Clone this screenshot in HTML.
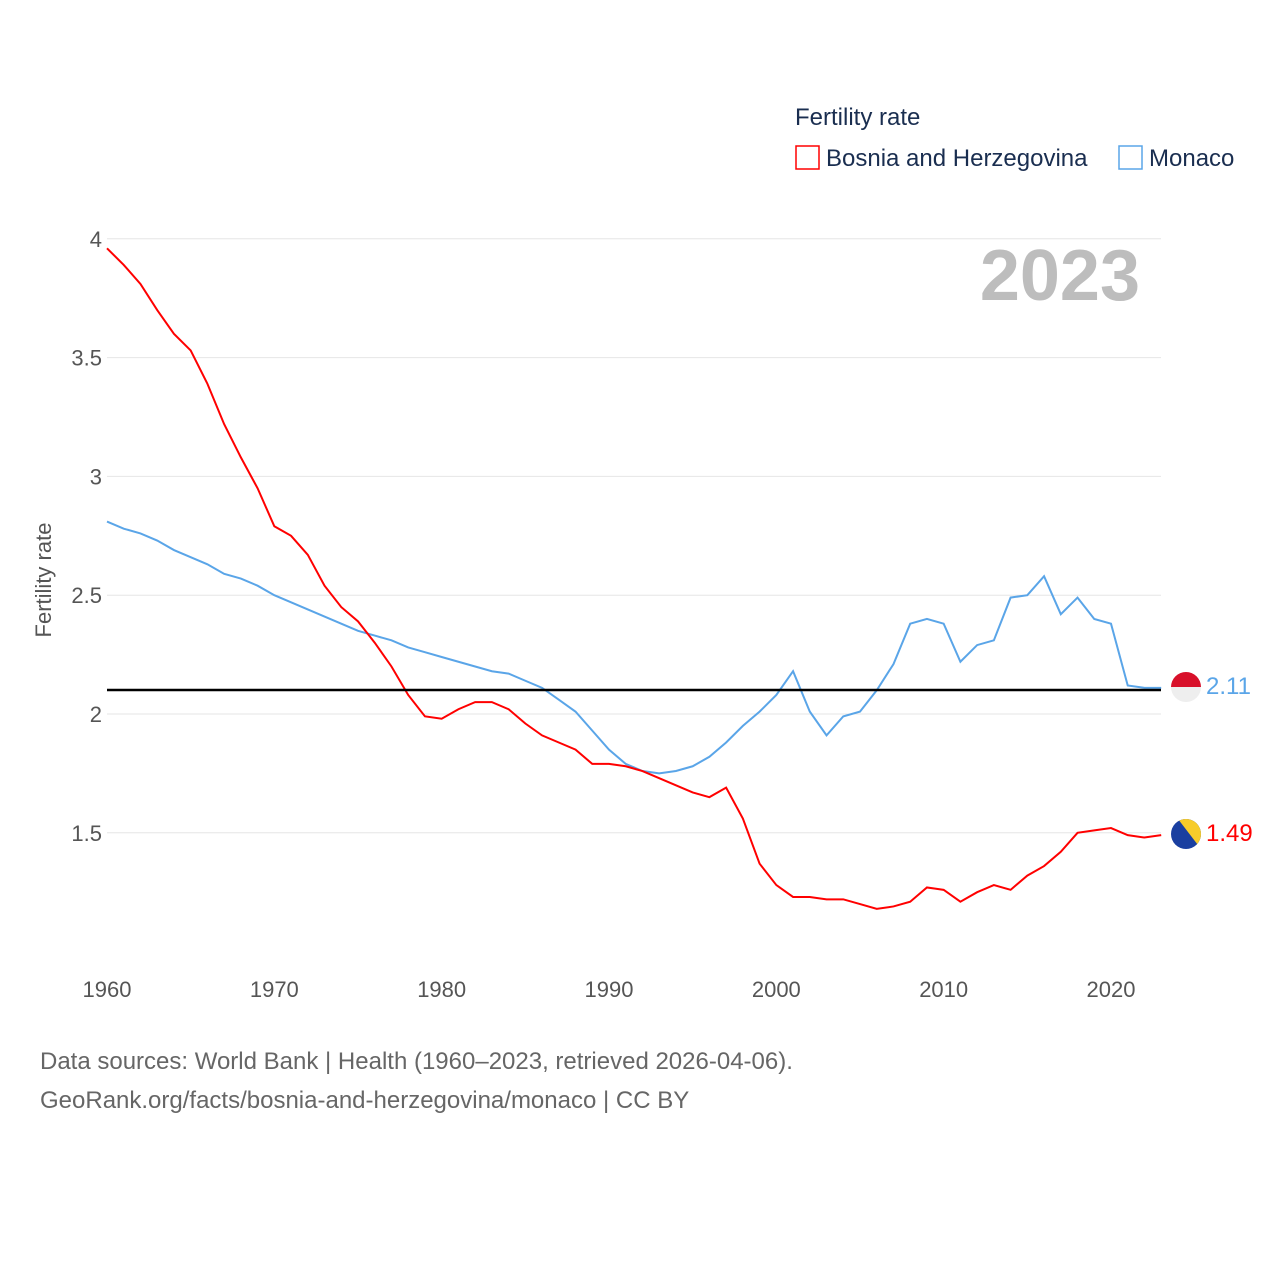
<!DOCTYPE html>
<html><head><meta charset="utf-8"><style>
body{margin:0;background:#fff;font-family:"Liberation Sans",sans-serif;}
svg text{font-family:"Liberation Sans",sans-serif;}
</style></head><body>
<svg id="chart" width="1280" height="1280">
<text x="795" y="125" font-size="24" fill="#1a2e50">Fertility rate</text>
<g><rect x="796" y="146" width="23" height="23" fill="none" stroke="#f00" stroke-width="1.5"/><text x="826" y="166" font-size="24" fill="#1a2e50">Bosnia and Herzegovina</text></g>
<g><rect x="1119" y="146" width="23" height="23" fill="none" stroke="#5aa5e8" stroke-width="1.5"/><text x="1149" y="166" font-size="24" fill="#1a2e50">Monaco</text></g>
<text x="1140" y="300" font-size="72" font-weight="bold" fill="#bdbdbd" text-anchor="end">2023</text>
<text transform="translate(51,580) rotate(-90)" font-size="22" fill="#555" text-anchor="middle">Fertility rate</text>
<g id="grid"></g><g id="xt"></g><g id="lines"></g>
<line x1="107" x2="1161" y1="690" y2="690" stroke="#000" stroke-width="2.5"/>
<g><clipPath id="c1"><circle cx="1186" cy="687" r="15"/></clipPath><g clip-path="url(#c1)"><rect x="1171" y="672" width="30" height="15" fill="#d8102a"/><rect x="1171" y="687" width="30" height="15" fill="#eee"/></g></g>
<g><clipPath id="c2"><circle cx="1186" cy="834" r="15"/></clipPath><g clip-path="url(#c2)"><rect x="1171" y="819" width="30" height="30" fill="#1a3fa0"/><polygon points="1178,819 1201,819 1201,849" fill="#f7cc2a"/></g></g>
<text x="1206" y="694" font-size="24" fill="#5aa5e8">2.11</text>
<text x="1206" y="841" font-size="24" fill="#f00">1.49</text>
<text x="40" y="1069" font-size="24" fill="#666">Data sources: World Bank | Health (1960–2023, retrieved 2026-04-06).</text>
<text x="40" y="1108" font-size="24" fill="#666">GeoRank.org/facts/bosnia-and-herzegovina/monaco | CC BY</text>
</svg>
<script>
const years=[];for(let y=1960;y<=2023;y++)years.push(y);
const bosnia=[3.96,3.89,3.81,3.70,3.60,3.53,3.39,3.22,3.08,2.95,2.79,2.75,2.67,2.54,2.45,2.39,2.30,2.20,2.08,1.99,1.98,2.02,2.05,2.05,2.02,1.96,1.91,1.88,1.85,1.79,1.79,1.78,1.76,1.73,1.70,1.67,1.65,1.69,1.56,1.37,1.28,1.23,1.23,1.22,1.22,1.20,1.18,1.19,1.21,1.27,1.26,1.21,1.25,1.28,1.26,1.32,1.36,1.42,1.50,1.51,1.52,1.49,1.48,1.49];
const monaco=[2.81,2.78,2.76,2.73,2.69,2.66,2.63,2.59,2.57,2.54,2.50,2.47,2.44,2.41,2.38,2.35,2.33,2.31,2.28,2.26,2.24,2.22,2.20,2.18,2.17,2.14,2.11,2.06,2.01,1.93,1.85,1.79,1.76,1.75,1.76,1.78,1.82,1.88,1.95,2.01,2.08,2.18,2.01,1.91,1.99,2.01,2.10,2.21,2.38,2.40,2.38,2.22,2.29,2.31,2.49,2.50,2.58,2.42,2.49,2.40,2.38,2.12,2.11,2.11];
const yTicks=[1.5,2,2.5,3,3.5,4];
const xTicks=[1960,1970,1980,1990,2000,2010,2020];
const X=v=>107+(v-1960)*1004/60, Y=v=>714-(v-2)*237.6;
const NS="http://www.w3.org/2000/svg";
function mk(p,t,a){const e=document.createElementNS(NS,t);for(const k in a)e.setAttribute(k,a[k]);p.appendChild(e);return e;}
const g=document.getElementById('grid'),xt=document.getElementById('xt'),L=document.getElementById('lines');
yTicks.forEach(t=>{const l=mk(g,'line',{x1:107,x2:1161,y1:Y(t),y2:Y(t),stroke:'#e6e6e6'});


const tx=mk(g,'text',{x:102,y:Y(t)+8,'font-size':22,fill:'#555','text-anchor':'end'});tx.textContent=t;

});
xTicks.forEach(t=>{const tx=mk(xt,'text',{x:X(t),y:997,'font-size':22,fill:'#555','text-anchor':'middle'});tx.textContent=t;

});
function line(d,c,n){const p=mk(L,'polyline',{points:d.map((v,i)=>X(years[i])+','+Y(v)).join(' '),fill:'none',stroke:c,'stroke-width':2});

}
line(monaco,'#5aa5e8','monaco-line');line(bosnia,'#f00','bosnia-line');
</script>
</body></html>
